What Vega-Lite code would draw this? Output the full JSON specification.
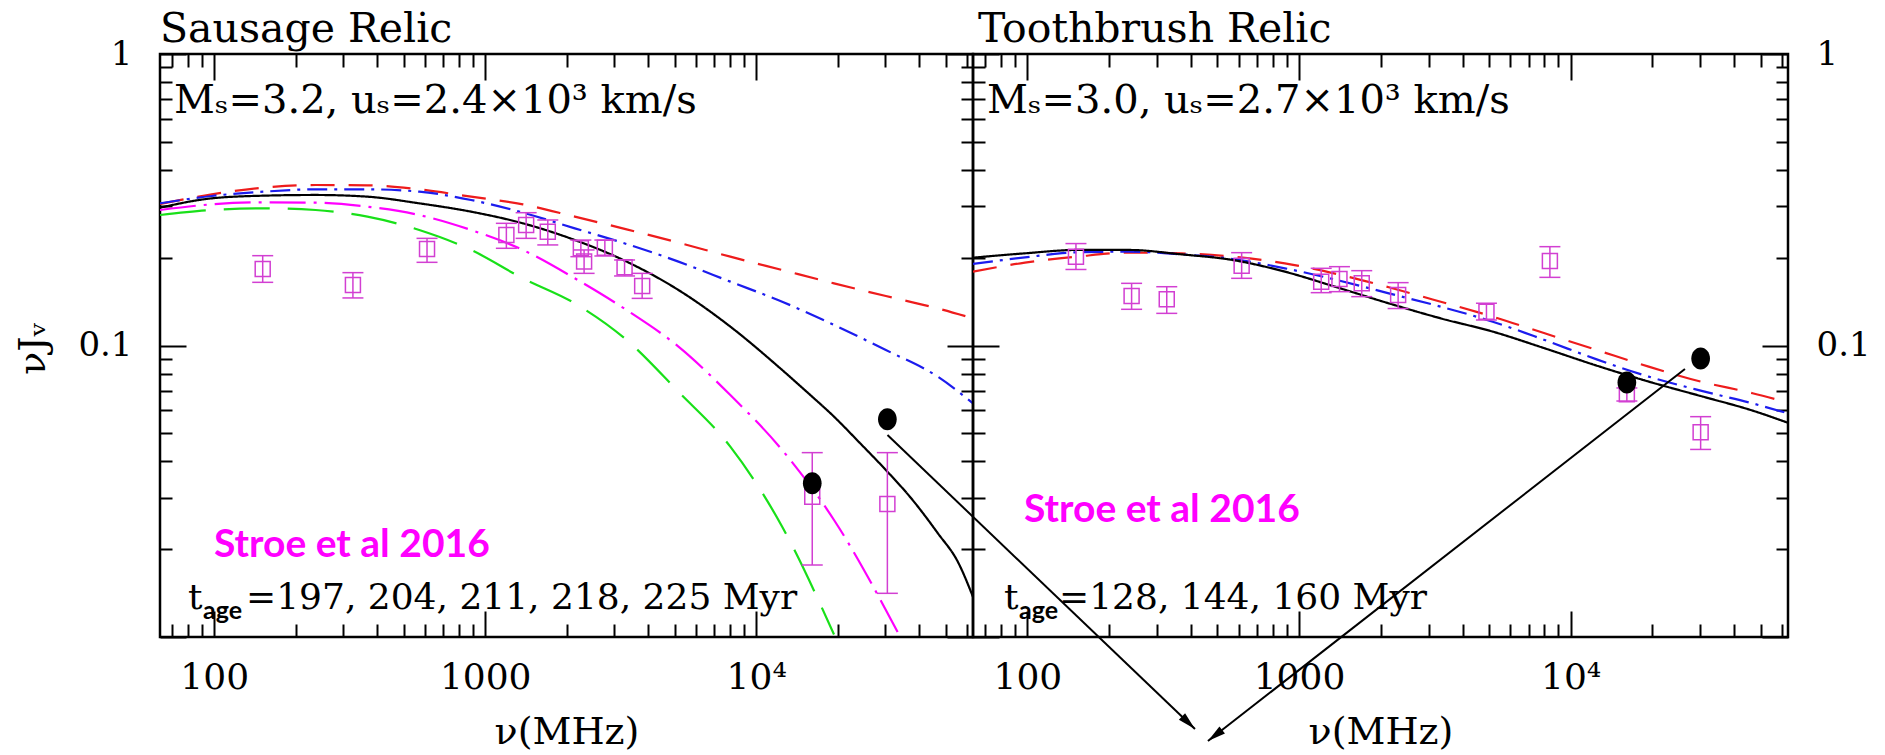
{
  "$schema": "https://vega.github.io/schema/vega-lite/v6.json",
  "background": "white",
  "autosize": {"type": "none"},
  "padding": {"left": 160, "top": 54, "right": 97, "bottom": 118},
  "params": [{"name": "width", "value": 1628}],
  "datasets": {
    "sausage_models": [
      {"age": "197 Myr", "nu": 63.1, "nuJnu": 0.3058}, {"age": "197 Myr", "nu": 98, "nuJnu": 0.3301}, {"age": "197 Myr", "nu": 152.2, "nuJnu": 0.3479}, {"age": "197 Myr", "nu": 236.6, "nuJnu": 0.3553}, {"age": "197 Myr", "nu": 367.6, "nuJnu": 0.3544}, {"age": "197 Myr", "nu": 571, "nuJnu": 0.3434}, {"age": "197 Myr", "nu": 887, "nuJnu": 0.324}, {"age": "197 Myr", "nu": 1378, "nuJnu": 0.305}, {"age": "197 Myr", "nu": 2141, "nuJnu": 0.2767}, {"age": "197 Myr", "nu": 3325, "nuJnu": 0.2503}, {"age": "197 Myr", "nu": 5166, "nuJnu": 0.2253}, {"age": "197 Myr", "nu": 8025, "nuJnu": 0.2017}, {"age": "197 Myr", "nu": 12470, "nuJnu": 0.1815}, {"age": "197 Myr", "nu": 19370, "nuJnu": 0.1634}, {"age": "197 Myr", "nu": 30090, "nuJnu": 0.1478}, {"age": "197 Myr", "nu": 46730, "nuJnu": 0.1341}, {"age": "197 Myr", "nu": 63100, "nuJnu": 0.1239},
      {"age": "204 Myr", "nu": 63.1, "nuJnu": 0.3074}, {"age": "204 Myr", "nu": 98, "nuJnu": 0.3258}, {"age": "204 Myr", "nu": 152.2, "nuJnu": 0.3371}, {"age": "204 Myr", "nu": 236.6, "nuJnu": 0.3434}, {"age": "204 Myr", "nu": 367.6, "nuJnu": 0.3434}, {"age": "204 Myr", "nu": 571, "nuJnu": 0.3371}, {"age": "204 Myr", "nu": 887, "nuJnu": 0.3156}, {"age": "204 Myr", "nu": 1378, "nuJnu": 0.2856}, {"age": "204 Myr", "nu": 2141, "nuJnu": 0.2523}, {"age": "204 Myr", "nu": 3325, "nuJnu": 0.2229}, {"age": "204 Myr", "nu": 5166, "nuJnu": 0.194}, {"age": "204 Myr", "nu": 8025, "nuJnu": 0.1656}, {"age": "204 Myr", "nu": 12470, "nuJnu": 0.1413}, {"age": "204 Myr", "nu": 19370, "nuJnu": 0.1176}, {"age": "204 Myr", "nu": 30090, "nuJnu": 0.0965}, {"age": "204 Myr", "nu": 46730, "nuJnu": 0.0782}, {"age": "204 Myr", "nu": 63100, "nuJnu": 0.0633},
      {"age": "211 Myr", "nu": 63.1, "nuJnu": 0.297}, {"age": "211 Myr", "nu": 98, "nuJnu": 0.3198}, {"age": "211 Myr", "nu": 152.2, "nuJnu": 0.3266}, {"age": "211 Myr", "nu": 236.6, "nuJnu": 0.3284}, {"age": "211 Myr", "nu": 367.6, "nuJnu": 0.324}, {"age": "211 Myr", "nu": 571, "nuJnu": 0.3074}, {"age": "211 Myr", "nu": 887, "nuJnu": 0.2878}, {"age": "211 Myr", "nu": 1378, "nuJnu": 0.2625}, {"age": "211 Myr", "nu": 2141, "nuJnu": 0.2301}, {"age": "211 Myr", "nu": 3325, "nuJnu": 0.194}, {"age": "211 Myr", "nu": 5166, "nuJnu": 0.155}, {"age": "211 Myr", "nu": 8025, "nuJnu": 0.1161}, {"age": "211 Myr", "nu": 12470, "nuJnu": 0.0824}, {"age": "211 Myr", "nu": 15540, "nuJnu": 0.0687}, {"age": "211 Myr", "nu": 19370, "nuJnu": 0.057}, {"age": "211 Myr", "nu": 24140, "nuJnu": 0.04628}, {"age": "211 Myr", "nu": 30090, "nuJnu": 0.0374}, {"age": "211 Myr", "nu": 37510, "nuJnu": 0.02974}, {"age": "211 Myr", "nu": 46730, "nuJnu": 0.02274}, {"age": "211 Myr", "nu": 55750, "nuJnu": 0.01795}, {"age": "211 Myr", "nu": 63100, "nuJnu": 0.01372},
      {"age": "218 Myr", "nu": 63.1, "nuJnu": 0.2916}, {"age": "218 Myr", "nu": 98, "nuJnu": 0.305}, {"age": "218 Myr", "nu": 152.2, "nuJnu": 0.3099}, {"age": "218 Myr", "nu": 236.6, "nuJnu": 0.309}, {"age": "218 Myr", "nu": 367.6, "nuJnu": 0.2994}, {"age": "218 Myr", "nu": 571, "nuJnu": 0.2803}, {"age": "218 Myr", "nu": 887, "nuJnu": 0.249}, {"age": "218 Myr", "nu": 1378, "nuJnu": 0.2127}, {"age": "218 Myr", "nu": 2141, "nuJnu": 0.17}, {"age": "218 Myr", "nu": 3325, "nuJnu": 0.1323}, {"age": "218 Myr", "nu": 5166, "nuJnu": 0.0991}, {"age": "218 Myr", "nu": 8025, "nuJnu": 0.0676}, {"age": "218 Myr", "nu": 12470, "nuJnu": 0.0438}, {"age": "218 Myr", "nu": 19370, "nuJnu": 0.0252}, {"age": "218 Myr", "nu": 34000, "nuJnu": 0.01},
      {"age": "225 Myr", "nu": 63.1, "nuJnu": 0.2803}, {"age": "225 Myr", "nu": 98, "nuJnu": 0.2916}, {"age": "225 Myr", "nu": 152.2, "nuJnu": 0.2955}, {"age": "225 Myr", "nu": 236.6, "nuJnu": 0.2916}, {"age": "225 Myr", "nu": 367.6, "nuJnu": 0.2767}, {"age": "225 Myr", "nu": 571, "nuJnu": 0.249}, {"age": "225 Myr", "nu": 887, "nuJnu": 0.2127}, {"age": "225 Myr", "nu": 1378, "nuJnu": 0.17}, {"age": "225 Myr", "nu": 2141, "nuJnu": 0.1395}, {"age": "225 Myr", "nu": 3325, "nuJnu": 0.1044}, {"age": "225 Myr", "nu": 5166, "nuJnu": 0.0694}, {"age": "225 Myr", "nu": 8025, "nuJnu": 0.045}, {"age": "225 Myr", "nu": 12470, "nuJnu": 0.0239}, {"age": "225 Myr", "nu": 19370, "nuJnu": 0.0102}
    ],
    "sausage_obs": [
      {"nu": 151, "nuJnu": 0.183, "lo": 0.1647, "hi": 0.2033},
      {"nu": 325, "nuJnu": 0.1612, "lo": 0.1456, "hi": 0.1778},
      {"nu": 610, "nuJnu": 0.2143, "lo": 0.1929, "hi": 0.2331},
      {"nu": 1197, "nuJnu": 0.2393, "lo": 0.2155, "hi": 0.2625},
      {"nu": 1416, "nuJnu": 0.259, "lo": 0.2331, "hi": 0.2855},
      {"nu": 1702, "nuJnu": 0.2458, "lo": 0.2213, "hi": 0.2695},
      {"nu": 2254, "nuJnu": 0.2155, "lo": 0.2017, "hi": 0.23},
      {"nu": 2317, "nuJnu": 0.194, "lo": 0.1768, "hi": 0.2127},
      {"nu": 2764, "nuJnu": 0.2166, "lo": 0.2028, "hi": 0.23},
      {"nu": 3268, "nuJnu": 0.1854, "lo": 0.1732, "hi": 0.1965},
      {"nu": 3795, "nuJnu": 0.16, "lo": 0.1451, "hi": 0.1768},
      {"nu": 16100, "nuJnu": 0.0303, "lo": 0.01766, "hi": 0.0429},
      {"nu": 30480, "nuJnu": 0.0286, "lo": 0.01412, "hi": 0.0429}
    ],
    "sausage_dots": [
      {"nu": 16100, "nuJnu": 0.0337},
      {"nu": 30480, "nuJnu": 0.0558}
    ],
    "sausage_arrow": [
      {"part": "tail", "nu": 30510, "nuJnu": 0.0493},
      {"part": "tip", "nu": 416000, "nuJnu": 0.004835}
    ],
    "toothbrush_models": [
      {"age": "128 Myr", "nu": 63.1, "nuJnu": 0.1792}, {"age": "128 Myr", "nu": 98, "nuJnu": 0.1924}, {"age": "128 Myr", "nu": 152.2, "nuJnu": 0.2017}, {"age": "128 Myr", "nu": 236.6, "nuJnu": 0.2082}, {"age": "128 Myr", "nu": 367.6, "nuJnu": 0.2071}, {"age": "128 Myr", "nu": 571, "nuJnu": 0.2017}, {"age": "128 Myr", "nu": 887, "nuJnu": 0.1914}, {"age": "128 Myr", "nu": 1378, "nuJnu": 0.1759}, {"age": "128 Myr", "nu": 2141, "nuJnu": 0.1584}, {"age": "128 Myr", "nu": 3325, "nuJnu": 0.1413}, {"age": "128 Myr", "nu": 5166, "nuJnu": 0.1256}, {"age": "128 Myr", "nu": 8025, "nuJnu": 0.1101}, {"age": "128 Myr", "nu": 12470, "nuJnu": 0.0965}, {"age": "128 Myr", "nu": 19370, "nuJnu": 0.0846}, {"age": "128 Myr", "nu": 30090, "nuJnu": 0.0752}, {"age": "128 Myr", "nu": 46730, "nuJnu": 0.0686}, {"age": "128 Myr", "nu": 63100, "nuJnu": 0.0637},
      {"age": "144 Myr", "nu": 63.1, "nuJnu": 0.1904}, {"age": "144 Myr", "nu": 98, "nuJnu": 0.2006}, {"age": "144 Myr", "nu": 152.2, "nuJnu": 0.2088}, {"age": "144 Myr", "nu": 236.6, "nuJnu": 0.2099}, {"age": "144 Myr", "nu": 367.6, "nuJnu": 0.2055}, {"age": "144 Myr", "nu": 571, "nuJnu": 0.198}, {"age": "144 Myr", "nu": 887, "nuJnu": 0.184}, {"age": "144 Myr", "nu": 1378, "nuJnu": 0.1678}, {"age": "144 Myr", "nu": 2141, "nuJnu": 0.151}, {"age": "144 Myr", "nu": 3325, "nuJnu": 0.1359}, {"age": "144 Myr", "nu": 5166, "nuJnu": 0.1207}, {"age": "144 Myr", "nu": 8025, "nuJnu": 0.1044}, {"age": "144 Myr", "nu": 12470, "nuJnu": 0.0896}, {"age": "144 Myr", "nu": 19370, "nuJnu": 0.0782}, {"age": "144 Myr", "nu": 30090, "nuJnu": 0.07}, {"age": "144 Myr", "nu": 46730, "nuJnu": 0.0633}, {"age": "144 Myr", "nu": 63100, "nuJnu": 0.0585},
      {"age": "160 Myr", "nu": 63.1, "nuJnu": 0.2001}, {"age": "160 Myr", "nu": 98, "nuJnu": 0.2071}, {"age": "160 Myr", "nu": 152.2, "nuJnu": 0.2127}, {"age": "160 Myr", "nu": 236.6, "nuJnu": 0.2127}, {"age": "160 Myr", "nu": 367.6, "nuJnu": 0.2055}, {"age": "160 Myr", "nu": 571, "nuJnu": 0.1964}, {"age": "160 Myr", "nu": 887, "nuJnu": 0.1792}, {"age": "160 Myr", "nu": 1378, "nuJnu": 0.1584}, {"age": "160 Myr", "nu": 2141, "nuJnu": 0.1395}, {"age": "160 Myr", "nu": 3325, "nuJnu": 0.1239}, {"age": "160 Myr", "nu": 5166, "nuJnu": 0.1116}, {"age": "160 Myr", "nu": 8025, "nuJnu": 0.0978}, {"age": "160 Myr", "nu": 12470, "nuJnu": 0.0853}, {"age": "160 Myr", "nu": 19370, "nuJnu": 0.0752}, {"age": "160 Myr", "nu": 30090, "nuJnu": 0.0671}, {"age": "160 Myr", "nu": 46730, "nuJnu": 0.0598}, {"age": "160 Myr", "nu": 63100, "nuJnu": 0.0543}
    ],
    "toothbrush_obs": [
      {"nu": 151, "nuJnu": 0.2017, "lo": 0.1823, "hi": 0.2237},
      {"nu": 242, "nuJnu": 0.1478, "lo": 0.1331, "hi": 0.1634},
      {"nu": 326, "nuJnu": 0.144, "lo": 0.1289, "hi": 0.1591},
      {"nu": 615, "nuJnu": 0.1878, "lo": 0.17, "hi": 0.2082},
      {"nu": 1207, "nuJnu": 0.1656, "lo": 0.1518, "hi": 0.184},
      {"nu": 1409, "nuJnu": 0.1691, "lo": 0.153, "hi": 0.1864},
      {"nu": 1702, "nuJnu": 0.1634, "lo": 0.1471, "hi": 0.1806},
      {"nu": 2317, "nuJnu": 0.149, "lo": 0.1339, "hi": 0.1643},
      {"nu": 4898, "nuJnu": 0.1306, "lo": 0.1223, "hi": 0.1395},
      {"nu": 8385, "nuJnu": 0.195, "lo": 0.1713, "hi": 0.2183},
      {"nu": 16100, "nuJnu": 0.068, "lo": 0.0645, "hi": 0.0715},
      {"nu": 30090, "nuJnu": 0.0504, "lo": 0.044, "hi": 0.057}
    ],
    "toothbrush_dots": [
      {"nu": 16100, "nuJnu": 0.0747},
      {"nu": 30090, "nuJnu": 0.0903}
    ],
    "toothbrush_arrow": [
      {"part": "tail", "nu": 26340, "nuJnu": 0.0831},
      {"part": "tip", "nu": 462.2, "nuJnu": 0.004396}
    ]
  },
  "spacing": 0,
  "bounds": "flush",
  "hconcat": [
    {
      "width": 813,
      "height": 583,
      "resolve": {"axis": {"x": "independent", "y": "independent"}},
      "layer": [
        {
          "data": {"name": "sausage_models"},
          "mark": {"type": "line", "clip": true, "strokeWidth": 2.2, "interpolate": "monotone"},
          "encoding": {
            "x": {"field": "nu", "type": "quantitative", "scale": {"type": "log", "domain": [63.0957, 63095.7], "nice": false},
              "axis": {"orient": "bottom", "values": [100, 1000, 10000], "labelExpr": "datum.value == 10000 ? '10⁴' : datum.value == 1000 ? '1000' : '100'", "ticks": false, "labelPadding": 51, "labelBaseline": "alphabetic", "labelFontSize": 36, "title": "ν(MHz)", "titleY": 106, "titleBaseline": "alphabetic", "titleFontSize": 38}},
            "y": {"field": "nuJnu", "type": "quantitative", "scale": {"type": "log", "domain": [0.01, 1], "nice": false},
              "axis": {"orient": "left", "values": [1, 0.1], "labelExpr": "datum.value > 0.5 ? '1' : '0.1'", "ticks": false, "labelPadding": 28, "labelBaseline": "middle", "labelFontSize": 34, "title": "νJᵥ", "titleX": -127, "titleY": 294, "titleAngle": 270, "titleAlign": "center", "titleBaseline": "middle", "titleFontSize": 38}},
            "color": {"field": "age", "type": "nominal", "legend": null, "scale": {"domain": ["197 Myr", "204 Myr", "211 Myr", "218 Myr", "225 Myr", "128 Myr", "144 Myr", "160 Myr"], "range": ["#ee1c1c", "#1c1cee", "#000000", "#ff00ff", "#19e019", "#ee1c1c", "#1c1cee", "#000000"]}},
            "strokeDash": {"field": "age", "type": "nominal", "legend": null, "scale": {"domain": ["197 Myr", "204 Myr", "211 Myr", "218 Myr", "225 Myr", "128 Myr", "144 Myr", "160 Myr"], "range": [[24, 14], [20, 7, 3, 7], [1, 0], [36, 8, 3, 8], [46, 18], [24, 14], [20, 7, 3, 7], [1, 0]]}}
          }
        },
        {
          "data": {"name": "sausage_obs"},
          "mark": {"type": "rule", "color": "#d23fd2", "strokeWidth": 1.5},
          "encoding": {
            "x": {"field": "nu", "type": "quantitative", "scale": {"type": "log", "domain": [63.0957, 63095.7], "nice": false},
              "axis": {"orient": "bottom", "values": [70, 80, 90, 100, 200, 300, 400, 500, 600, 700, 800, 900, 1000, 2000, 3000, 4000, 5000, 6000, 7000, 8000, 9000, 10000, 20000, 30000, 40000, 50000, 60000], "labels": false, "title": null, "tickSize": {"condition": {"test": "datum.value == 100 || datum.value == 1000 || datum.value == 10000", "value": -26}, "value": -13}}},
            "y": {"field": "lo", "type": "quantitative", "scale": {"type": "log", "domain": [0.01, 1], "nice": false},
              "axis": {"orient": "left", "values": [0.01, 0.02, 0.03, 0.04, 0.05, 0.06, 0.07, 0.08, 0.09, 0.1, 0.2, 0.3, 0.4, 0.5, 0.6, 0.7, 0.8, 0.9, 1], "labels": false, "title": null, "tickSize": {"condition": {"test": "datum.value == 0.1 || datum.value == 1 || datum.value == 0.01", "value": -26}, "value": -12}}},
            "y2": {"field": "hi"}
          }
        },
        {
          "data": {"name": "sausage_obs"},
          "mark": {"type": "tick", "orient": "horizontal", "size": 21, "thickness": 1.5, "color": "#d23fd2", "opacity": 1},
          "encoding": {
            "x": {"field": "nu", "type": "quantitative", "scale": {"type": "log", "domain": [63.0957, 63095.7], "nice": false},
              "axis": {"orient": "top", "values": [70, 80, 90, 100, 200, 300, 400, 500, 600, 700, 800, 900, 1000, 2000, 3000, 4000, 5000, 6000, 7000, 8000, 9000, 10000, 20000, 30000, 40000, 50000, 60000], "labels": false, "title": null, "tickSize": {"condition": {"test": "datum.value == 100 || datum.value == 1000 || datum.value == 10000", "value": -26}, "value": -13}}},
            "y": {"field": "lo", "type": "quantitative", "scale": {"type": "log", "domain": [0.01, 1], "nice": false},
              "axis": {"orient": "right", "values": [0.01, 0.02, 0.03, 0.04, 0.05, 0.06, 0.07, 0.08, 0.09, 0.1, 0.2, 0.3, 0.4, 0.5, 0.6, 0.7, 0.8, 0.9, 1], "labels": false, "title": null, "tickSize": {"condition": {"test": "datum.value == 0.1 || datum.value == 1 || datum.value == 0.01", "value": -26}, "value": -12}}}
          }
        },
        {
          "data": {"name": "sausage_obs"},
          "mark": {"type": "tick", "orient": "horizontal", "size": 21, "thickness": 1.5, "color": "#d23fd2", "opacity": 1},
          "encoding": {
            "x": {"field": "nu", "type": "quantitative", "scale": {"type": "log", "domain": [63.0957, 63095.7], "nice": false}, "axis": null},
            "y": {"field": "hi", "type": "quantitative", "scale": {"type": "log", "domain": [0.01, 1], "nice": false}, "axis": null}
          }
        },
        {
          "data": {"name": "sausage_obs"},
          "mark": {"type": "point", "shape": "square", "filled": false, "size": 225, "color": "#d23fd2", "strokeWidth": 1.5, "opacity": 1},
          "encoding": {
            "x": {"field": "nu", "type": "quantitative", "scale": {"type": "log", "domain": [63.0957, 63095.7], "nice": false}, "axis": null},
            "y": {"field": "nuJnu", "type": "quantitative", "scale": {"type": "log", "domain": [0.01, 1], "nice": false}, "axis": null}
          }
        },
        {
          "data": {"name": "sausage_dots"},
          "mark": {"type": "point", "shape": "M-0.85,0A0.85,1 0 1,1 0.85,0A0.85,1 0 1,1 -0.85,0Z", "size": 484, "filled": true, "color": "black", "opacity": 1},
          "encoding": {
            "x": {"field": "nu", "type": "quantitative", "scale": {"type": "log", "domain": [63.0957, 63095.7], "nice": false}, "axis": null},
            "y": {"field": "nuJnu", "type": "quantitative", "scale": {"type": "log", "domain": [0.01, 1], "nice": false}, "axis": null}
          }
        },
        {
          "data": {"name": "sausage_arrow"},
          "mark": {"type": "line", "color": "black", "strokeWidth": 2, "clip": false},
          "encoding": {
            "x": {"field": "nu", "type": "quantitative", "scale": {"type": "log", "domain": [63.0957, 63095.7], "nice": false}, "axis": null},
            "y": {"field": "nuJnu", "type": "quantitative", "scale": {"type": "log", "domain": [0.01, 1], "nice": false}, "axis": null}
          }
        },
        {
          "data": {"name": "sausage_arrow"},
          "transform": [{"filter": "datum.part == 'tip'"}],
          "mark": {"type": "point", "shape": "M0,0L-0.4,1.6L0.4,1.6Z", "size": 506, "angle": 133.7, "filled": true, "color": "black", "opacity": 1},
          "encoding": {
            "x": {"field": "nu", "type": "quantitative", "scale": {"type": "log", "domain": [63.0957, 63095.7], "nice": false}, "axis": null},
            "y": {"field": "nuJnu", "type": "quantitative", "scale": {"type": "log", "domain": [0.01, 1], "nice": false}, "axis": null}
          }
        },
        {
          "data": {"values": [{}]},
          "mark": {"type": "text", "text": "Sausage Relic", "font": "DejaVu Serif", "fontSize": 41, "align": "left", "baseline": "alphabetic", "color": "black"},
          "encoding": {
            "x": {"datum": 63.0957, "type": "quantitative", "scale": {"type": "log", "domain": [63.0957, 63095.7], "nice": false}, "axis": null},
            "y": {"datum": 1.0995, "type": "quantitative", "scale": {"type": "log", "domain": [0.01, 1], "nice": false}, "axis": null}
          }
        },
        {
          "data": {"values": [{}]},
          "mark": {"type": "text", "text": "Mₛ=3.2, uₛ=2.4×10³ km/s", "font": "DejaVu Serif", "fontSize": 40, "align": "left", "baseline": "alphabetic", "color": "black"},
          "encoding": {
            "x": {"datum": 71.1, "type": "quantitative", "scale": {"type": "log", "domain": [63.0957, 63095.7], "nice": false}, "axis": null},
            "y": {"datum": 0.6274, "type": "quantitative", "scale": {"type": "log", "domain": [0.01, 1], "nice": false}, "axis": null}
          }
        },
        {
          "data": {"values": [{}]},
          "mark": {"type": "text", "text": "t", "font": "DejaVu Serif", "fontSize": 36, "align": "left", "baseline": "alphabetic", "color": "black"},
          "encoding": {
            "x": {"datum": 80.06, "type": "quantitative", "scale": {"type": "log", "domain": [63.0957, 63095.7], "nice": false}, "axis": null},
            "y": {"datum": 0.01247, "type": "quantitative", "scale": {"type": "log", "domain": [0.01, 1], "nice": false}, "axis": null}
          }
        },
        {
          "data": {"values": [{}]},
          "mark": {"type": "text", "text": "age", "font": "Lato", "fontWeight": "bold", "fontSize": 25, "align": "left", "baseline": "alphabetic", "dx": 15, "dy": 10, "color": "black"},
          "encoding": {
            "x": {"datum": 80.06, "type": "quantitative", "scale": {"type": "log", "domain": [63.0957, 63095.7], "nice": false}, "axis": null},
            "y": {"datum": 0.01247, "type": "quantitative", "scale": {"type": "log", "domain": [0.01, 1], "nice": false}, "axis": null}
          }
        },
        {
          "data": {"values": [{}]},
          "mark": {"type": "text", "text": "=197, 204, 211, 218, 225 Myr", "font": "DejaVu Serif", "fontSize": 36, "align": "left", "baseline": "alphabetic", "dx": 58, "color": "black"},
          "encoding": {
            "x": {"datum": 80.06, "type": "quantitative", "scale": {"type": "log", "domain": [63.0957, 63095.7], "nice": false}, "axis": null},
            "y": {"datum": 0.01247, "type": "quantitative", "scale": {"type": "log", "domain": [0.01, 1], "nice": false}, "axis": null}
          }
        },
        {
          "data": {"values": [{}]},
          "mark": {"type": "text", "text": "Stroe et al 2016", "font": "Lato", "fontWeight": "bold", "fontSize": 39, "align": "left", "baseline": "alphabetic", "color": "#ff00ff"},
          "encoding": {
            "x": {"datum": 99.8, "type": "quantitative", "scale": {"type": "log", "domain": [63.0957, 63095.7], "nice": false}, "axis": null},
            "y": {"datum": 0.0188, "type": "quantitative", "scale": {"type": "log", "domain": [0.01, 1], "nice": false}, "axis": null}
          }
        }
      ]
    },
    {
      "width": 815,
      "height": 583,
      "resolve": {"axis": {"x": "independent", "y": "independent"}},
      "layer": [
        {
          "data": {"name": "toothbrush_models"},
          "mark": {"type": "line", "clip": true, "strokeWidth": 2.2, "interpolate": "monotone"},
          "encoding": {
            "x": {"field": "nu", "type": "quantitative", "scale": {"type": "log", "domain": [63.0957, 63095.7], "nice": false},
              "axis": {"orient": "bottom", "values": [100, 1000, 10000], "labelExpr": "datum.value == 10000 ? '10⁴' : datum.value == 1000 ? '1000' : '100'", "ticks": false, "labelPadding": 51, "labelBaseline": "alphabetic", "labelFontSize": 36, "title": "ν(MHz)", "titleY": 106, "titleBaseline": "alphabetic", "titleFontSize": 38}},
            "y": {"field": "nuJnu", "type": "quantitative", "scale": {"type": "log", "domain": [0.01, 1], "nice": false},
              "axis": {"orient": "right", "values": [1, 0.1], "labelExpr": "datum.value > 0.5 ? '1' : '0.1'", "ticks": false, "labelPadding": 28, "labelBaseline": "middle", "labelFontSize": 34, "title": null}},
            "color": {"field": "age", "type": "nominal", "legend": null, "scale": {"domain": ["197 Myr", "204 Myr", "211 Myr", "218 Myr", "225 Myr", "128 Myr", "144 Myr", "160 Myr"], "range": ["#ee1c1c", "#1c1cee", "#000000", "#ff00ff", "#19e019", "#ee1c1c", "#1c1cee", "#000000"]}},
            "strokeDash": {"field": "age", "type": "nominal", "legend": null, "scale": {"domain": ["197 Myr", "204 Myr", "211 Myr", "218 Myr", "225 Myr", "128 Myr", "144 Myr", "160 Myr"], "range": [[24, 14], [20, 7, 3, 7], [1, 0], [36, 8, 3, 8], [46, 18], [24, 14], [20, 7, 3, 7], [1, 0]]}}
          }
        },
        {
          "data": {"name": "toothbrush_obs"},
          "mark": {"type": "rule", "color": "#d23fd2", "strokeWidth": 1.5},
          "encoding": {
            "x": {"field": "nu", "type": "quantitative", "scale": {"type": "log", "domain": [63.0957, 63095.7], "nice": false},
              "axis": {"orient": "bottom", "values": [70, 80, 90, 100, 200, 300, 400, 500, 600, 700, 800, 900, 1000, 2000, 3000, 4000, 5000, 6000, 7000, 8000, 9000, 10000, 20000, 30000, 40000, 50000, 60000], "labels": false, "title": null, "tickSize": {"condition": {"test": "datum.value == 100 || datum.value == 1000 || datum.value == 10000", "value": -26}, "value": -13}}},
            "y": {"field": "lo", "type": "quantitative", "scale": {"type": "log", "domain": [0.01, 1], "nice": false},
              "axis": {"orient": "left", "values": [0.01, 0.02, 0.03, 0.04, 0.05, 0.06, 0.07, 0.08, 0.09, 0.1, 0.2, 0.3, 0.4, 0.5, 0.6, 0.7, 0.8, 0.9, 1], "labels": false, "title": null, "tickSize": {"condition": {"test": "datum.value == 0.1 || datum.value == 1 || datum.value == 0.01", "value": -26}, "value": -12}}},
            "y2": {"field": "hi"}
          }
        },
        {
          "data": {"name": "toothbrush_obs"},
          "mark": {"type": "tick", "orient": "horizontal", "size": 21, "thickness": 1.5, "color": "#d23fd2", "opacity": 1},
          "encoding": {
            "x": {"field": "nu", "type": "quantitative", "scale": {"type": "log", "domain": [63.0957, 63095.7], "nice": false},
              "axis": {"orient": "top", "values": [70, 80, 90, 100, 200, 300, 400, 500, 600, 700, 800, 900, 1000, 2000, 3000, 4000, 5000, 6000, 7000, 8000, 9000, 10000, 20000, 30000, 40000, 50000, 60000], "labels": false, "title": null, "tickSize": {"condition": {"test": "datum.value == 100 || datum.value == 1000 || datum.value == 10000", "value": -26}, "value": -13}}},
            "y": {"field": "lo", "type": "quantitative", "scale": {"type": "log", "domain": [0.01, 1], "nice": false},
              "axis": {"orient": "right", "values": [0.01, 0.02, 0.03, 0.04, 0.05, 0.06, 0.07, 0.08, 0.09, 0.1, 0.2, 0.3, 0.4, 0.5, 0.6, 0.7, 0.8, 0.9, 1], "labels": false, "title": null, "tickSize": {"condition": {"test": "datum.value == 0.1 || datum.value == 1 || datum.value == 0.01", "value": -26}, "value": -12}}}
          }
        },
        {
          "data": {"name": "toothbrush_obs"},
          "mark": {"type": "tick", "orient": "horizontal", "size": 21, "thickness": 1.5, "color": "#d23fd2", "opacity": 1},
          "encoding": {
            "x": {"field": "nu", "type": "quantitative", "scale": {"type": "log", "domain": [63.0957, 63095.7], "nice": false}, "axis": null},
            "y": {"field": "hi", "type": "quantitative", "scale": {"type": "log", "domain": [0.01, 1], "nice": false}, "axis": null}
          }
        },
        {
          "data": {"name": "toothbrush_obs"},
          "mark": {"type": "point", "shape": "square", "filled": false, "size": 225, "color": "#d23fd2", "strokeWidth": 1.5, "opacity": 1},
          "encoding": {
            "x": {"field": "nu", "type": "quantitative", "scale": {"type": "log", "domain": [63.0957, 63095.7], "nice": false}, "axis": null},
            "y": {"field": "nuJnu", "type": "quantitative", "scale": {"type": "log", "domain": [0.01, 1], "nice": false}, "axis": null}
          }
        },
        {
          "data": {"name": "toothbrush_dots"},
          "mark": {"type": "point", "shape": "M-0.85,0A0.85,1 0 1,1 0.85,0A0.85,1 0 1,1 -0.85,0Z", "size": 484, "filled": true, "color": "black", "opacity": 1},
          "encoding": {
            "x": {"field": "nu", "type": "quantitative", "scale": {"type": "log", "domain": [63.0957, 63095.7], "nice": false}, "axis": null},
            "y": {"field": "nuJnu", "type": "quantitative", "scale": {"type": "log", "domain": [0.01, 1], "nice": false}, "axis": null}
          }
        },
        {
          "data": {"name": "toothbrush_arrow"},
          "mark": {"type": "line", "color": "black", "strokeWidth": 2, "clip": false},
          "encoding": {
            "x": {"field": "nu", "type": "quantitative", "scale": {"type": "log", "domain": [63.0957, 63095.7], "nice": false}, "axis": null},
            "y": {"field": "nuJnu", "type": "quantitative", "scale": {"type": "log", "domain": [0.01, 1], "nice": false}, "axis": null}
          }
        },
        {
          "data": {"name": "toothbrush_arrow"},
          "transform": [{"filter": "datum.part == 'tip'"}],
          "mark": {"type": "point", "shape": "M0,0L-0.4,1.6L0.4,1.6Z", "size": 506, "angle": 232.3, "filled": true, "color": "black", "opacity": 1},
          "encoding": {
            "x": {"field": "nu", "type": "quantitative", "scale": {"type": "log", "domain": [63.0957, 63095.7], "nice": false}, "axis": null},
            "y": {"field": "nuJnu", "type": "quantitative", "scale": {"type": "log", "domain": [0.01, 1], "nice": false}, "axis": null}
          }
        },
        {
          "data": {"values": [{}]},
          "mark": {"type": "text", "text": "Toothbrush Relic", "font": "DejaVu Serif", "fontSize": 41, "align": "left", "baseline": "alphabetic", "color": "black"},
          "encoding": {
            "x": {"datum": 65.8, "type": "quantitative", "scale": {"type": "log", "domain": [63.0957, 63095.7], "nice": false}, "axis": null},
            "y": {"datum": 1.0995, "type": "quantitative", "scale": {"type": "log", "domain": [0.01, 1], "nice": false}, "axis": null}
          }
        },
        {
          "data": {"values": [{}]},
          "mark": {"type": "text", "text": "Mₛ=3.0, uₛ=2.7×10³ km/s", "font": "DejaVu Serif", "fontSize": 40, "align": "left", "baseline": "alphabetic", "color": "black"},
          "encoding": {
            "x": {"datum": 71.1, "type": "quantitative", "scale": {"type": "log", "domain": [63.0957, 63095.7], "nice": false}, "axis": null},
            "y": {"datum": 0.6274, "type": "quantitative", "scale": {"type": "log", "domain": [0.01, 1], "nice": false}, "axis": null}
          }
        },
        {
          "data": {"values": [{}]},
          "mark": {"type": "text", "text": "t", "font": "DejaVu Serif", "fontSize": 36, "align": "left", "baseline": "alphabetic", "color": "black"},
          "encoding": {
            "x": {"datum": 82.07, "type": "quantitative", "scale": {"type": "log", "domain": [63.0957, 63095.7], "nice": false}, "axis": null},
            "y": {"datum": 0.01247, "type": "quantitative", "scale": {"type": "log", "domain": [0.01, 1], "nice": false}, "axis": null}
          }
        },
        {
          "data": {"values": [{}]},
          "mark": {"type": "text", "text": "age", "font": "Lato", "fontWeight": "bold", "fontSize": 25, "align": "left", "baseline": "alphabetic", "dx": 15, "dy": 10, "color": "black"},
          "encoding": {
            "x": {"datum": 82.07, "type": "quantitative", "scale": {"type": "log", "domain": [63.0957, 63095.7], "nice": false}, "axis": null},
            "y": {"datum": 0.01247, "type": "quantitative", "scale": {"type": "log", "domain": [0.01, 1], "nice": false}, "axis": null}
          }
        },
        {
          "data": {"values": [{}]},
          "mark": {"type": "text", "text": "=128, 144, 160 Myr", "font": "DejaVu Serif", "fontSize": 36, "align": "left", "baseline": "alphabetic", "dx": 55, "color": "black"},
          "encoding": {
            "x": {"datum": 82.07, "type": "quantitative", "scale": {"type": "log", "domain": [63.0957, 63095.7], "nice": false}, "axis": null},
            "y": {"datum": 0.01247, "type": "quantitative", "scale": {"type": "log", "domain": [0.01, 1], "nice": false}, "axis": null}
          }
        },
        {
          "data": {"values": [{}]},
          "mark": {"type": "text", "text": "Stroe et al 2016", "font": "Lato", "fontWeight": "bold", "fontSize": 39, "align": "left", "baseline": "alphabetic", "color": "#ff00ff"},
          "encoding": {
            "x": {"datum": 97.2, "type": "quantitative", "scale": {"type": "log", "domain": [63.0957, 63095.7], "nice": false}, "axis": null},
            "y": {"datum": 0.0248, "type": "quantitative", "scale": {"type": "log", "domain": [0.01, 1], "nice": false}, "axis": null}
          }
        }
      ]
    }
  ],
  "config": {
    "view": {"stroke": "black", "strokeWidth": 2.5},
    "axis": {
      "grid": false,
      "domain": false,
      "labelFont": "DejaVu Serif",
      "titleFont": "DejaVu Serif",
      "labelColor": "black",
      "titleColor": "black",
      "titleFontWeight": "normal",
      "tickColor": "black",
      "tickWidth": 2,
      "labelOverlap": false,
      "labelFlush": false,
      "labelBound": false
    }
  }
}
